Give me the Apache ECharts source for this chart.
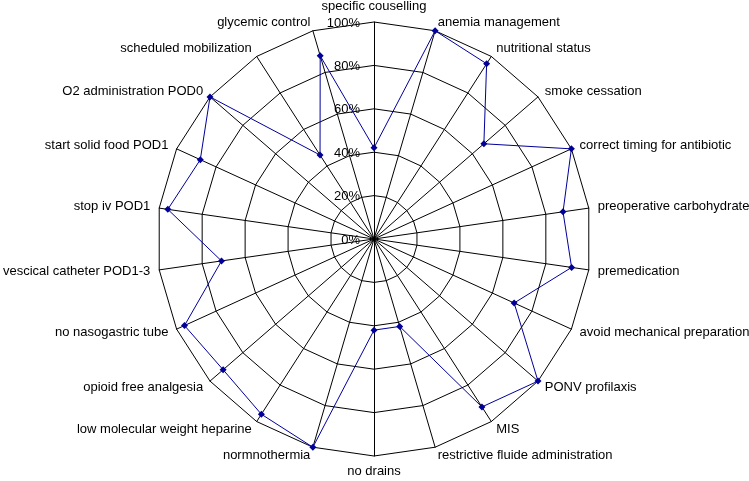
<!DOCTYPE html>
<html>
<head>
<meta charset="utf-8">
<script src="https://cdn.jsdelivr.net/npm/echarts@6/dist/echarts.min.js"></script>
<style>html,body{margin:0;padding:0;background:#fff;}#c{width:749px;height:481px;}</style>
</head>
<body>
<div id="c"></div>
<script>
// Indicators listed clockwise starting at the top
var categories = [
  "specific couselling", "anemia management", "nutritional status", "smoke cessation",
  "correct timing for antibiotic", "preoperative carbohydrate", "premedication",
  "avoid mechanical preparation", "PONV profilaxis", "MIS", "restrictive fluide administration",
  "no drains", "normnothermia", "low molecular weight heparine", "opioid free analgesia",
  "no nasogastric tube", "vescical catheter POD1-3", "stop iv POD1", "start solid food POD1",
  "O2 administration POD0", "scheduled mobilization", "glycemic control"
];
var values = [42, 100, 96, 67, 100, 88, 92, 71, 100, 92, 42, 42, 100, 96, 92, 96, 71, 96, 88, 100, 46, 88];
var tickMax = 100;
var tickSplit = 5;

// ECharts places radar indicators counter-clockwise; reorder so the picture reads clockwise
var order = [0];
for (var i = categories.length - 1; i >= 1; i--) order.push(i);

var indicators = order.map(function (idx, k) {
  var ind = { name: categories[idx], max: tickMax, min: 0 };
  if (k === 0) {
    ind.axisLabel = {
      show: true,
      margin: 14,
      formatter: '{t|{value}%}',
      rich: {
        t: {
          color: '#000',
          fontFamily: 'Liberation Sans, Arial, sans-serif',
          fontSize: 13,
          padding: [2, 0, 0, 0]
        }
      }
    };
  }
  return ind;
});
var seriesValues = order.map(function (idx) { return values[idx]; });

var chart = echarts.init(document.getElementById('c'));
chart.setOption({
  animation: false,
  backgroundColor: '#fff',
  radar: {
    center: [374, 239],
    radius: 217,
    startAngle: 90,
    shape: 'polygon',
    splitNumber: tickSplit,
    indicator: indicators,
    axisName: { color: '#000', fontFamily: 'Liberation Sans, Arial, sans-serif', fontSize: 13 },
    nameGap: 9,
    axisLine: { lineStyle: { color: '#000', width: 1 } },
    splitLine: { lineStyle: { color: '#000', width: 1 } },
    splitArea: { show: false },
    axisTick: { show: false },
    axisLabel: {
      show: false
    }
  },
  series: [{
    type: 'radar',
    symbol: 'diamond',
    symbolSize: 7,
    lineStyle: { color: '#000099', width: 1 },
    itemStyle: { color: '#000099' },
    data: [{ value: seriesValues }]
  }]
});
</script>
</body>
</html>
